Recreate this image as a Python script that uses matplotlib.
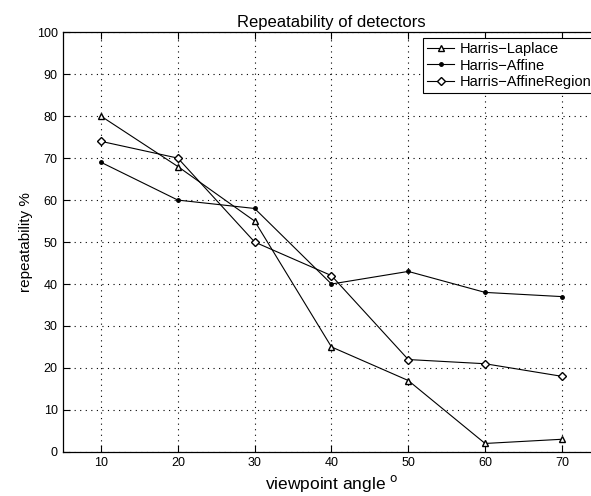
import matplotlib
matplotlib.use('Agg')
import matplotlib.pyplot as plt

plt.rcParams['font.family'] = ['Liberation Sans', 'DejaVu Sans']

angles = [10, 20, 30, 40, 50, 60, 70]
laplace = [80, 68, 55, 25, 17, 2, 3]
affine = [69, 60, 58, 40, 43, 38, 37]
affine_region = [74, 70, 50, 42, 22, 21, 18]

fig = plt.figure(figsize=(5.91, 4.96), dpi=100)
# axes run past the right edge of the picture, as in the cropped original
ax = fig.add_axes([0.106, 0.089, 0.9097, 0.846])

ax.plot(angles, laplace, 'k-', marker='^', mfc='white', mec='black',
        markersize=5, lw=0.8, label='Harris\u2212Laplace')
ax.plot(angles, affine, 'k-', marker='.', markersize=5, lw=0.8,
        label='Harris\u2212Affine')
ax.plot(angles, affine_region, 'k-', marker='D', mfc='white', mec='black',
        markersize=4.5, lw=0.8, label='Harris\u2212AffineRegion')

ax.set_xlim(5, 75)
ax.set_ylim(0, 100)
ax.set_xticks(angles)
ax.set_yticks(range(0, 101, 10))
ax.grid(True, color='black', linestyle=(0, (1, 4)), linewidth=0.8)
ax.tick_params(direction='in', length=5, labelsize=9, top=True, right=False,
               width=0.8)
ax.spines['right'].set_visible(False)
for s in ax.spines.values():
    s.set_linewidth(0.9)

ax.set_title('Repeatability of detectors', fontsize=12, pad=4)
ax.set_xlabel('viewpoint angle $^{\\mathrm{o}}$', fontsize=12.5, labelpad=3)
ax.set_ylabel('repeatability %', fontsize=11, labelpad=3)

leg = ax.legend(loc='upper left', bbox_to_anchor=(423 / 591, 1 - 38 / 496),
                bbox_transform=fig.transFigure, fontsize=10.5, frameon=True,
                fancybox=False, edgecolor='black', framealpha=1,
                borderpad=0.3, labelspacing=0.15, handlelength=1.8,
                handletextpad=0.4, borderaxespad=0)
leg.get_frame().set_linewidth(0.8)

fig.savefig('out.png', dpi=100)
